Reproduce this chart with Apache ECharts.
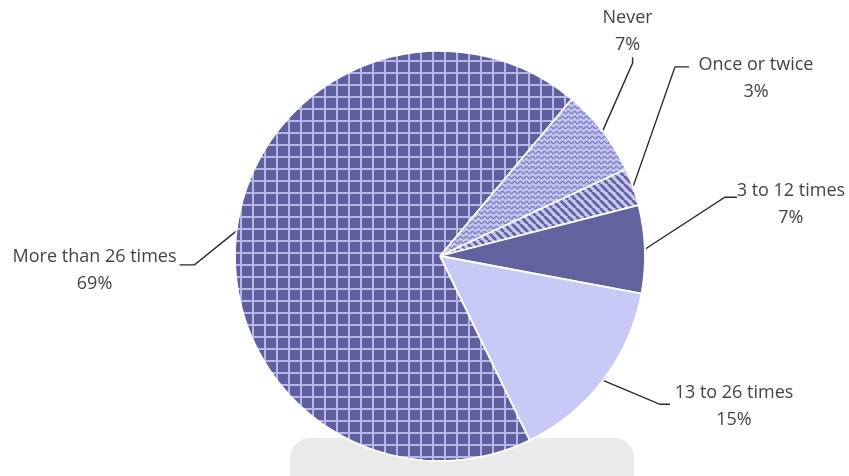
<!DOCTYPE html>
<html><head><meta charset="utf-8">
<script src="https://cdn.jsdelivr.net/npm/echarts@6/dist/echarts.min.js"></script>
<style>html,body{margin:0;padding:0;background:#fff}#c{width:849px;height:476px}</style>
</head><body><div id="c"></div>
<script>
// ---- data ----
const categories = ['Never', 'Once or twice', '3 to 12 times', '13 to 26 times', 'More than 26 times'];
const shares = [7, 3, 7, 15, 69];

// ---- label placement, offsets relative to the library's rim anchor of each slice ----
const labelOffsets = [
  { text: [25, -127], line: [[30, -68], [30, -74]] },
  { text: [123, -136], line: [[42, -120], [56, -120]] },
  { text: [146, -72], line: [[80, -52], [92, -52]] },
  { text: [131, -1], line: [[57, 24], [67, 24]] },
  { text: [-142, 12], line: [[-42, 34], [-57, 34]] }
];

function tile(w, h, draw) {
  const c = document.createElement('canvas');
  c.width = w; c.height = h;
  draw(c.getContext('2d'), w, h);
  return c;
}
const gridTile = tile(12, 12, (g, w, h) => {
  g.fillStyle = '#5f5f9d'; g.fillRect(0, 0, w, h);
  g.fillStyle = '#b6b6ea';
  g.fillRect(0, 0, 2, h); g.fillRect(0, 0, w, 2);
});
const waveTile = tile(6, 5, (g, w, h) => {
  g.fillStyle = '#c6c6f3'; g.fillRect(0, 0, w, h);
  g.strokeStyle = '#8282c2'; g.lineWidth = 1.4;
  g.beginPath();
  for (let x = -1; x <= w + 1; x += 0.25) {
    const y = 2.5 + 1.2 * Math.sin(2 * Math.PI * x / w);
    if (x === -1) g.moveTo(x, y); else g.lineTo(x, y);
  }
  g.stroke();
});
const stripeTile = tile(8, 8, (g, w, h) => {
  g.fillStyle = '#c8c8f5'; g.fillRect(0, 0, w, h);
  g.strokeStyle = '#6363a2'; g.lineWidth = 2.8;
  g.beginPath();
  for (let k = -1; k <= 1; k++) { g.moveTo(k * w, 0); g.lineTo(k * w + w, h); }
  g.stroke();
});
const fills = [
  { image: waveTile, repeat: 'repeat' },
  { image: stripeTile, repeat: 'repeat' },
  '#62629e',
  '#c9c9f7',
  { image: gridTile, repeat: 'repeat' }
];

const chart = echarts.init(document.getElementById('c'));
chart.setOption({
  animation: false,
  backgroundColor: '#ffffff',
  graphic: [{
    type: 'rect', z: 0, silent: true,
    shape: { x: 290, y: 438, width: 344, height: 60, r: 20 },
    style: { fill: '#eaeaea' }
  }],
  series: [{
    type: 'pie',
    z: 2,
    center: [440, 256],
    radius: 205,
    startAngle: 50,
    clockwise: true,
    avoidLabelOverlap: false,
    emphasis: { disabled: true },
    itemStyle: { borderColor: '#ffffff', borderWidth: 1.8 },
    label: {
      show: true,
      position: 'outside',
      formatter: '{b}\n{c}%',
      fontFamily: 'Open Sans',
      fontSize: 18,
      lineHeight: 27,
      color: '#444444'
    },
    labelLine: { show: true, lineStyle: { color: '#2a2a2a', width: 1.4 } },
    labelLayout: function (p) {
      const o = labelOffsets[p.dataIndex];
      const e = p.labelLinePoints && p.labelLinePoints[0];
      if (!o || !e) return {};
      return {
        x: e[0] + o.text[0], y: e[1] + o.text[1],
        align: 'center', verticalAlign: 'top',
        labelLinePoints: [
          [e[0], e[1]],
          [e[0] + o.line[0][0], e[1] + o.line[0][1]],
          [e[0] + o.line[1][0], e[1] + o.line[1][1]]
        ]
      };
    },
    data: categories.map((n, i) => ({ name: n, value: shares[i], itemStyle: { color: fills[i] } }))
  }]
});
</script></body></html>
